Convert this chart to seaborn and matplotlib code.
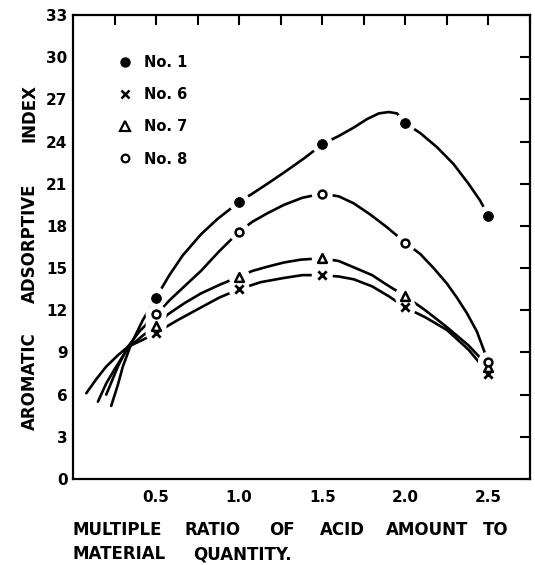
import matplotlib
matplotlib.use("Agg")
import matplotlib.pyplot as plt
import seaborn as sns
from matplotlib.lines import Line2D

# ---- data ----
x_points = [0.5, 1.0, 1.5, 2.0, 2.5]
no1 = [12.9, 19.7, 23.8, 25.3, 18.7]
no6 = [10.4, 13.5, 14.5, 12.2, 7.5]
no7 = [10.9, 14.4, 15.7, 13.0, 8.0]
no8 = [11.7, 17.6, 20.3, 16.8, 8.3]

# hand-drawn smooth curves
curve1_x = [0.23, 0.27, 0.30, 0.35, 0.42, 0.50, 0.58, 0.66, 0.77, 0.87, 1.00, 1.08, 1.17, 1.27, 1.39, 1.50, 1.60, 1.69, 1.77, 1.84, 1.90, 1.95, 2.00, 2.09, 2.19, 2.29, 2.38, 2.45, 2.50]
curve1_y = [5.2, 6.7, 8.0, 9.6, 11.3, 12.9, 14.5, 15.9, 17.4, 18.5, 19.7, 20.3, 21.0, 21.8, 22.8, 23.8, 24.4, 25.0, 25.6, 26.0, 26.1, 26.0, 25.3, 24.6, 23.6, 22.4, 21.0, 19.8, 18.7]
curve8_x = [0.20, 0.27, 0.33, 0.40, 0.50, 0.58, 0.67, 0.77, 0.88, 1.00, 1.08, 1.17, 1.27, 1.38, 1.50, 1.60, 1.69, 1.79, 1.89, 2.00, 2.09, 2.17, 2.25, 2.31, 2.37, 2.43, 2.49]
curve8_y = [6.0, 8.0, 9.4, 10.5, 11.7, 12.7, 13.7, 14.8, 16.2, 17.6, 18.3, 18.9, 19.5, 20.0, 20.3, 20.1, 19.6, 18.8, 17.9, 16.8, 16.0, 15.0, 13.9, 12.9, 11.8, 10.5, 8.6]
curve7_x = [0.15, 0.20, 0.25, 0.33, 0.42, 0.50, 0.57, 0.67, 0.77, 0.88, 1.00, 1.08, 1.17, 1.27, 1.37, 1.50, 1.60, 1.70, 1.80, 1.89, 2.00, 2.12, 2.25, 2.38, 2.50]
curve7_y = [5.5, 6.8, 7.8, 9.3, 10.2, 10.9, 11.7, 12.5, 13.2, 13.8, 14.4, 14.8, 15.1, 15.4, 15.6, 15.7, 15.5, 15.0, 14.5, 13.8, 13.0, 12.0, 10.8, 9.5, 8.0]
curve6_x = [0.08, 0.14, 0.20, 0.27, 0.33, 0.42, 0.50, 0.63, 0.77, 0.88, 1.00, 1.13, 1.27, 1.38, 1.50, 1.60, 1.69, 1.80, 1.90, 2.00, 2.12, 2.25, 2.38, 2.50]
curve6_y = [6.1, 7.1, 8.0, 8.8, 9.4, 9.9, 10.4, 11.3, 12.2, 12.9, 13.5, 14.0, 14.3, 14.5, 14.5, 14.4, 14.2, 13.7, 13.0, 12.2, 11.5, 10.6, 9.2, 7.5]

labels = ["No. 1", "No. 6", "No. 7", "No. 8"]
x_tick_values = [0.5, 1.0, 1.5, 2.0, 2.5]
x_tick_labels = ["0.5", "1.0", "1.5", "2.0", "2.5"]
x_minor_ticks = [0.25, 0.75, 1.25, 1.75, 2.25, 2.75]
y_tick_values = [0, 3, 6, 9, 12, 15, 18, 21, 24, 27, 30, 33]

# ---- style ----
sns.set_theme(style="white")
plt.rcParams["font.family"] = ["DejaVu Sans"]
plt.rcParams["font.weight"] = "bold"
plt.rcParams["text.color"] = "black"
plt.rcParams["axes.labelcolor"] = "black"
plt.rcParams["xtick.color"] = "black"
plt.rcParams["ytick.color"] = "black"

fig = plt.figure(figsize=(5.35, 5.65), dpi=100)
ax = fig.add_axes([73 / 535, 86 / 565, 457 / 535, 464 / 565])

curves = [(curve1_x, curve1_y), (curve6_x, curve6_y), (curve7_x, curve7_y), (curve8_x, curve8_y)]
for cx, cy in curves:
    sns.lineplot(x=cx, y=cy, ax=ax, color="black", linewidth=1.9,
                 sort=False, estimator=None, zorder=2)

series = [no1, no6, no7, no8]
# white halos to break lines around points
for vals in series:
    sns.scatterplot(x=x_points, y=vals, ax=ax, s=230, color="white",
                    edgecolor="none", linewidth=0, zorder=3, legend=False)

sns.scatterplot(x=x_points, y=no1, ax=ax, marker="o", s=50, color="black",
                edgecolor="black", zorder=4, legend=False)
sns.scatterplot(x=x_points, y=no6, ax=ax, marker="x", s=36, color="black",
                linewidth=2.0, zorder=4, legend=False)
sns.scatterplot(x=x_points, y=no7, ax=ax, marker="^", s=40, color="white",
                edgecolor="black", linewidth=1.8, zorder=4, legend=False)
sns.scatterplot(x=x_points, y=no8, ax=ax, marker="o", s=32, color="white",
                edgecolor="black", linewidth=1.8, zorder=4, legend=False)

ax.set_xlim(0, 2.75)
ax.set_ylim(0, 33)
ax.set_xticks(x_tick_values)
ax.set_xticklabels(x_tick_labels)
ax.set_xticks(x_minor_ticks, minor=True)
ax.set_yticks(y_tick_values)
ax.set_yticklabels([str(v) for v in y_tick_values])
ax.tick_params(axis="both", which="both", direction="in", length=7, width=1.5,
               top=True, right=True, labelsize=11, colors="black")
ax.tick_params(axis="y", pad=4)
ax.tick_params(axis="x", pad=8)
for lab in ax.get_xticklabels() + ax.get_yticklabels():
    lab.set_fontweight("bold")
for sp in ax.spines.values():
    sp.set_linewidth(1.6)
    sp.set_color("black")
ax.set_xlabel("")
ax.set_ylabel("")

# legend
handles = [
    Line2D([], [], marker="o", linestyle="none", color="black", markersize=6.5),
    Line2D([], [], marker="x", linestyle="none", color="black", markersize=5.5, markeredgewidth=1.8),
    Line2D([], [], marker="^", linestyle="none", color="black", markerfacecolor="white",
           markersize=6.5, markeredgewidth=1.6),
    Line2D([], [], marker="o", linestyle="none", color="black", markerfacecolor="white",
           markersize=5.5, markeredgewidth=1.6),
]
leg = ax.legend(handles, labels, loc="upper left", bbox_to_anchor=(0.098, 0.914),
                frameon=False, handlelength=1.0, handletextpad=0.8,
                labelspacing=1.18, borderpad=0, borderaxespad=0,
                prop={"weight": "bold", "size": 10.5})
for t in leg.get_texts():
    t.set_color("black")

# axis titles, word by word as in the original lettering
fs = 12
ylabel_words = [("AROMATIC", 381), ("ADSORPTIVE", 243), ("INDEX", 113)]
for w, ypx in ylabel_words:
    fig.text(30 / 535, 1 - ypx / 565, w, rotation=90, ha="center", va="center",
             fontsize=fs, fontweight="bold", color="black")
xlabel_line1 = [("MULTIPLE", 73), ("RATIO", 185), ("OF", 269), ("ACID", 320),
                ("AMOUNT", 386), ("TO", 483)]
for w, xpx in xlabel_line1:
    fig.text(xpx / 535, 1 - 530 / 565, w, ha="left", va="center",
             fontsize=fs, fontweight="bold", color="black")
xlabel_line2 = [("MATERIAL", 73), ("QUANTITY.", 193)]
for w, xpx in xlabel_line2:
    fig.text(xpx / 535, 1 - 554 / 565, w, ha="left", va="center",
             fontsize=fs, fontweight="bold", color="black")

fig.savefig("out.png", dpi=100)
